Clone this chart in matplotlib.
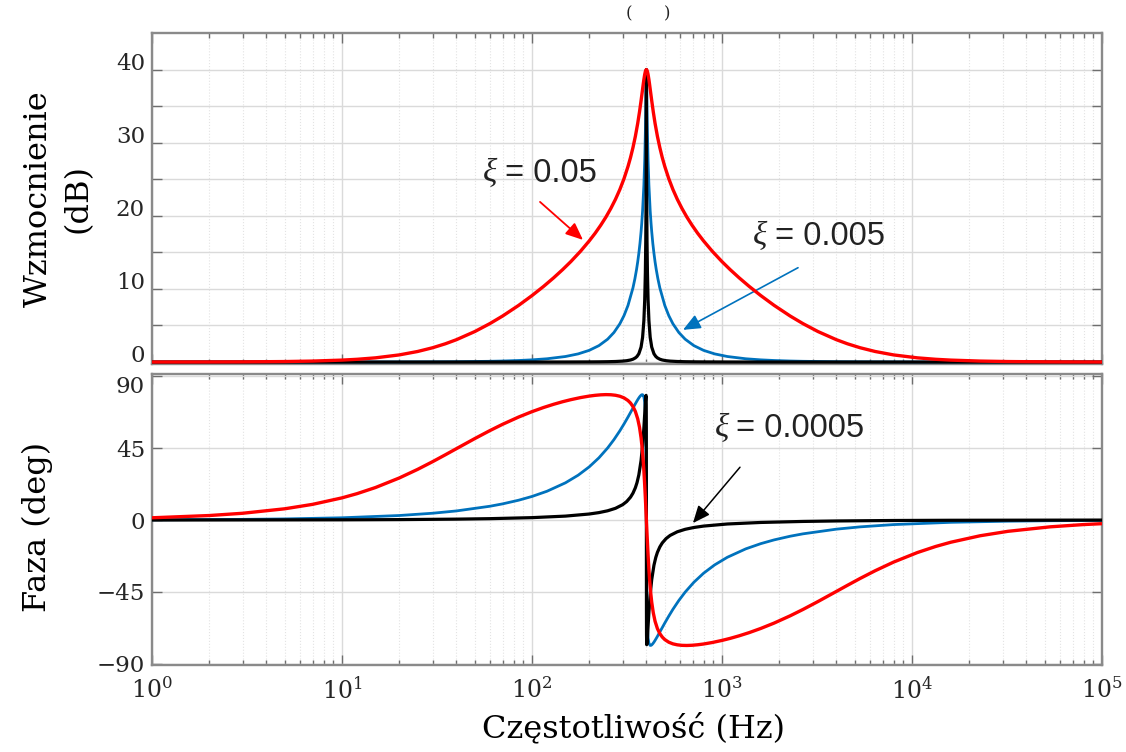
#!/usr/bin/env python3
"""Bode plot (gain + phase) of a resonant filter for three damping ratios."""

import matplotlib

matplotlib.use("Agg")
import matplotlib.pyplot as plt
from matplotlib.ticker import FixedLocator, FuncFormatter, LogLocator, NullFormatter

# --- data (Hz, dB, deg) ---
freq_red = [1, 2, 3, 5, 7, 10, 12, 15, 20, 25, 30, 35, 40, 50, 60, 70, 85, 100, 115,
            130, 145, 160, 180, 200, 215, 230, 245, 260, 275, 290, 305, 320, 330, 340,
            350, 360, 368, 375, 380, 385, 388, 392, 395, 397, 400,
            403.0, 405.1, 408.2, 412.4, 415.6, 421.1, 426.7, 434.8, 444.4, 457.1, 470.6,
            484.8, 500, 524.6, 551.7, 581.8, 615.4, 653.1, 695.7, 744.2, 800, 888.9,
            1000, 1103.4, 1230.8, 1391.3, 1600, 1882.4, 2285.7, 2666.7, 3200, 4000,
            4571.4, 5333, 6400, 8000, 10667, 13333, 16000, 22857, 32000, 53333, 80000,
            100000]
mag_red = [0.003, 0.011, 0.024, 0.067, 0.131, 0.264, 0.375, 0.573, 0.974, 1.442, 1.956,
           2.498, 3.054, 4.17, 5.256, 6.29, 7.745, 9.09, 10.339, 11.52, 12.645, 13.73,
           15.15, 16.56, 17.62, 18.71, 19.83, 21.01, 22.256, 23.60, 25.08, 26.74, 27.969,
           29.34, 30.878, 32.63, 34.218, 35.74, 36.876, 38.00, 38.629, 39.34, 39.734,
           39.90, 40.0,
           39.90, 39.734, 39.34, 38.629, 38.00, 36.876, 35.74, 34.218, 32.63, 30.878,
           29.34, 27.969, 26.74, 25.08, 23.60, 22.256, 21.01, 19.83, 18.71, 17.62, 16.56,
           15.15, 13.73, 12.645, 11.52, 10.339, 9.09, 7.745, 6.29, 5.256, 4.17, 3.054,
           2.498, 1.956, 1.442, 0.974, 0.573, 0.375, 0.264, 0.131, 0.067, 0.024, 0.011,
           0.007]
phase_red = [1.42, 2.83, 4.25, 7.06, 9.83, 13.90, 16.54, 20.37, 26.34, 31.75, 36.59,
             40.90, 44.71, 51.05, 56.03, 59.98, 64.53, 67.91, 70.51, 72.53, 74.14, 75.41,
             76.72, 77.66, 78.14, 78.45, 78.58, 78.50, 78.18, 77.57, 76.53, 74.89, 73.30,
             71.10, 68.00, 63.44, 58.12, 51.51, 45.15, 36.96, 31.01, 21.77, 13.98, 8.47,
             0.0,
             -8.47, -13.98, -21.77, -31.01, -36.96, -45.15, -51.51, -58.12, -63.44,
             -68.00, -71.10, -73.30, -74.89, -76.53, -77.57, -78.18, -78.50, -78.58,
             -78.45, -78.14, -77.66, -76.72, -75.41, -74.14, -72.53, -70.51, -67.91,
             -64.53, -59.98, -56.03, -51.05, -44.71, -40.90, -36.59, -31.75, -26.34,
             -20.37, -16.54, -13.90, -9.83, -7.06, -4.25, -2.83, -2.27]

freq_blue = [1, 3, 5, 10, 20, 30, 40, 60, 70, 85, 100, 120, 150, 175, 200, 225, 250,
             270, 290, 305, 320, 340, 348, 355, 360, 365, 370, 375, 378, 382, 388, 392,
             395, 397, 398.5, 399.3, 400,
             400.7, 401.5, 403.0, 405.1, 408.2, 412.4, 418.8, 423.3, 426.7, 432.4, 438.4,
             444.4, 450.7, 459.8, 470.6, 500, 524.6, 551.7, 592.6, 640, 711.1, 800, 914.3,
             1066.7, 1333.3, 1600, 1882.4, 2285.7, 2666.7, 4000, 5333, 8000, 16000,
             32000, 53333, 100000]
mag_blue = [0.0, 0.0002, 0.0007, 0.0027, 0.0109, 0.0246, 0.044, 0.101, 0.139, 0.210,
            0.298, 0.448, 0.757, 1.115, 1.597, 2.245, 3.122, 4.043, 5.231, 6.352, 7.734,
            10.159, 11.395, 12.657, 13.689, 14.863, 16.22, 17.82, 18.945, 20.70, 24.20,
            27.62, 31.35, 34.86, 38.06, 39.50, 40.0,
            39.50, 38.06, 34.86, 31.35, 27.62, 24.20, 20.70, 18.945, 17.82, 16.22, 14.863,
            13.689, 12.657, 11.395, 10.159, 7.734, 6.352, 5.231, 4.043, 3.122, 2.245,
            1.597, 1.115, 0.757, 0.448, 0.298, 0.210, 0.139, 0.101, 0.044, 0.0246, 0.0109,
            0.0027, 0.0007, 0.0002, 0.0001]
phase_blue = [0.14, 0.43, 0.71, 1.42, 2.84, 4.27, 5.71, 8.64, 10.13, 12.42, 14.78, 18.06,
              23.33, 28.11, 33.31, 38.98, 45.14, 50.40, 55.92, 60.20, 64.50, 70.17, 72.34,
              74.15, 75.37, 76.49, 77.46, 78.21, 78.50, 78.54, 77.19, 73.78, 66.88, 55.55,
              36.48, 19.10, 0.0,
              -19.10, -36.48, -55.55, -66.88, -73.78, -77.19, -78.54, -78.50, -78.21,
              -77.46, -76.49, -75.37, -74.15, -72.34, -70.17, -64.50, -60.20, -55.92,
              -50.40, -45.14, -38.98, -33.31, -28.11, -23.33, -18.06, -14.78, -12.42,
              -10.13, -8.64, -5.71, -4.27, -2.84, -1.42, -0.71, -0.43, -0.23]

freq_black = [1, 10, 20, 40, 60, 100, 150, 200, 225, 250, 275, 300, 315, 330, 340, 350,
              357, 365, 375, 382, 388, 392, 395, 397, 398.5, 399.3, 399.7, 399.9, 400,
              400.1, 400.3, 400.7, 401.5, 403.0, 405.1, 408.2, 412.4, 418.8, 426.7, 438.4,
              448.2, 457.1, 470.6, 484.8, 507.9, 533.3, 581.8, 640, 711.1, 800, 1066.7,
              1600, 2666.7, 4000, 8000, 16000, 100000]
mag_black = [0.0, 0.0, 0.0001, 0.0004, 0.001, 0.0031, 0.0083, 0.0193, 0.0293, 0.0455,
             0.0732, 0.126, 0.183, 0.281, 0.389, 0.567, 0.765, 1.131, 2.039, 3.381, 5.673,
             8.525, 12.246, 16.52, 22.43, 28.78, 34.88, 39.03, 40.0,
             39.03, 34.88, 28.78, 22.43, 16.52, 12.246, 8.525, 5.673, 3.381, 2.039, 1.131,
             0.765, 0.567, 0.389, 0.281, 0.183, 0.126, 0.0732, 0.0455, 0.0293, 0.0193,
             0.0083, 0.0031, 0.001, 0.0004, 0.0001, 0.0, 0.0]
phase_black = [0.01, 0.14, 0.28, 0.57, 0.87, 1.51, 2.47, 3.78, 4.66, 5.80, 7.35, 9.63,
               11.59, 14.34, 16.86, 20.26, 23.43, 28.29, 37.31, 46.73, 57.70, 66.58,
               73.60, 77.64, 78.10, 72.02, 55.45, 26.28, 0.0,
               -26.28, -55.45, -72.02, -78.10, -77.64, -73.60, -66.58, -57.70, -46.73,
               -37.31, -28.29, -23.43, -20.26, -16.86, -14.34, -11.59, -9.63, -7.35,
               -5.80, -4.66, -3.78, -2.47, -1.51, -0.87, -0.57, -0.28, -0.14, -0.02]

RED = "#ff0000"
BLUE = "#0072bd"
BLACK = "#000000"

W, H = 1126, 752

plt.rcParams["font.family"] = "DejaVu Serif"
plt.rcParams["mathtext.fontset"] = "dejavuserif"


def style_axes(ax):
    ax.set_xscale("log")
    ax.set_xlim(1, 1e5)
    ax.xaxis.set_major_locator(LogLocator(base=10, numticks=10))
    ax.xaxis.set_minor_locator(LogLocator(base=10, subs=range(2, 10), numticks=20))
    ax.xaxis.set_minor_formatter(NullFormatter())
    ax.tick_params(which="both", direction="in", top=True, right=True,
                   color="#6e6e6e", labelcolor="#262626", width=1.0)
    ax.tick_params(which="major", length=7)
    ax.tick_params(which="minor", length=3.8)
    ax.tick_params(axis="y", labelsize=16.5, pad=5)
    ax.tick_params(axis="x", labelsize=17, pad=9)
    ax.grid(True, which="major", color="#dadada", linewidth=1.0)
    ax.grid(True, which="minor", axis="x", color="#e3e3e3", linewidth=0.8, linestyle=":")
    ax.set_axisbelow(True)
    for sp in ax.spines.values():
        sp.set_color("#8a8a8a")
        sp.set_linewidth(1.7)


fig = plt.figure(figsize=(W / 100, H / 100), dpi=100)
ax_mag = fig.add_axes([152 / W, 1 - 363.5 / H, 950 / W, 330.5 / H])
ax_ph = fig.add_axes([152 / W, 1 - 664.5 / H, 950 / W, 290.5 / H])

# --- gain ---
style_axes(ax_mag)
ax_mag.plot(freq_blue, mag_blue, color=BLUE, linewidth=2.0, zorder=3)
ax_mag.plot(freq_black, mag_black, color=BLACK, linewidth=2.3, zorder=4)
ax_mag.plot(freq_red, mag_red, color=RED, linewidth=2.4, zorder=5)
ax_mag.set_ylim(-0.2, 45)
ax_mag.yaxis.set_major_locator(FixedLocator(list(range(0, 45, 5))))
ax_mag.yaxis.set_major_formatter(FuncFormatter(lambda v, p: f"{v:.0f}" if v % 10 == 0 else ""))
ax_mag.tick_params(axis="x", labelbottom=False)
for lab in ax_mag.get_yticklabels():
    lab.set_verticalalignment("baseline")
ax_mag.set_ylabel("Wzmocnienie\n(dB)", fontsize=23, linespacing=1.35)
ax_mag.yaxis.set_label_coords(-0.062, 0.5)

ax_mag.annotate("", xy=(185.5, 16.7), xytext=(110.2, 21.9),
                arrowprops=dict(arrowstyle="-|>,head_length=0.7,head_width=0.3",
                                color=RED, lw=1.3, mutation_scale=15,
                                shrinkA=0, shrinkB=0))
ax_mag.annotate("", xy=(623.4, 4.4), xytext=(2512, 12.9),
                arrowprops=dict(arrowstyle="-|>,head_length=0.7,head_width=0.3",
                                color=BLUE, lw=1.2, mutation_scale=15,
                                shrinkA=0, shrinkB=0))

# --- phase ---
style_axes(ax_ph)
ax_ph.plot(freq_blue, phase_blue, color=BLUE, linewidth=2.0, zorder=3)
ax_ph.plot(freq_black, phase_black, color=BLACK, linewidth=2.3, zorder=4)
ax_ph.plot(freq_red, phase_red, color=RED, linewidth=2.4, zorder=5)
ax_ph.set_ylim(-90.5, 91.5)
ax_ph.yaxis.set_major_locator(FixedLocator([-90, -45, 0, 45, 90]))
for lab in ax_ph.get_yticklabels():
    if lab.get_text() == "90":
        lab.set_verticalalignment("top")
ax_ph.set_ylabel("Faza (deg)", fontsize=23)
ax_ph.yaxis.set_label_coords(-0.104, 0.473)
ax_ph.set_xlabel("Częstotliwość (Hz)", fontsize=23)
ax_ph.xaxis.set_label_coords(0.507, -0.165)

ax_ph.annotate("", xy=(703, -1.9), xytext=(1243.6, 33.1),
               arrowprops=dict(arrowstyle="-|>,head_length=0.7,head_width=0.3",
                               color=BLACK, lw=1.1, mutation_scale=15,
                               shrinkA=0, shrinkB=0))

# --- damping labels ---
labels = [(483, 505, 182, "= 0.05"), (753, 775, 245, "= 0.005"), (715, 736, 437, "= 0.0005")]
for x_xi, x_eq, y_base, txt in labels:
    fig.text(x_xi / W, 1 - y_base / H, "ξ", family="Liberation Serif", style="italic",
             fontsize=24, color="#222222", ha="left", va="baseline")
    fig.text(x_eq / W, 1 - y_base / H, txt, family="Liberation Sans", fontsize=23.5,
             color="#222222", ha="left", va="baseline")

# small panel title at the top edge
fig.text(626 / W, 1 - 22 / H, "(", fontsize=12, ha="left", va="bottom", color="#222222")
fig.text(664 / W, 1 - 22 / H, ")", fontsize=12, ha="left", va="bottom", color="#222222")

fig.savefig("out.png", dpi=100)
